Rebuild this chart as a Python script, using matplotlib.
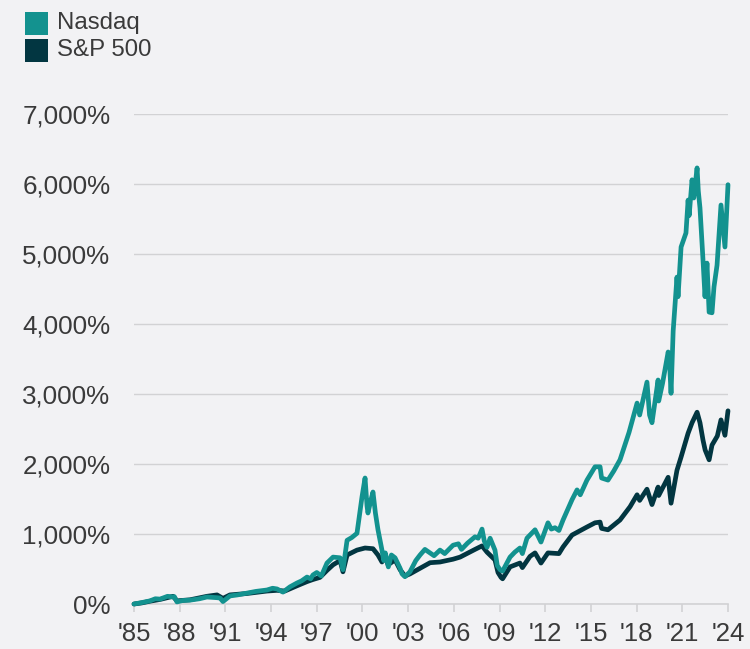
import matplotlib
matplotlib.use("Agg")
import matplotlib.pyplot as plt
from matplotlib.patches import Rectangle
from matplotlib.ticker import FuncFormatter

series_names = ["Nasdaq", "S&P 500"]
series_colors = ["#13928f", "#023641"]

nasdaq_dates = [1985.0, 1985.5, 1986.05, 1986.4, 1986.71, 1987.2, 1987.56, 1987.65, 1987.82, 1988.2,
                1988.68, 1989.3, 1989.79, 1990.45, 1990.65, 1990.84, 1991.3, 1991.8, 1992.42, 1993.0,
                1993.73, 1994.1, 1994.39, 1994.78, 1995.24, 1995.7, 1996.0, 1996.36, 1996.6, 1996.75,
                1997.0, 1997.3, 1997.67, 1998.07, 1998.53, 1998.72, 1998.99, 1999.3, 1999.64, 1999.97,
                2000.17, 2000.3, 2000.36, 2000.55, 2000.69, 2000.85, 2001.02, 2001.28, 2001.4, 2001.5,
                2001.7, 2001.9, 2002.14, 2002.47, 2002.6, 2002.79, 2003.12, 2003.5, 2003.78, 2004.1,
                2004.44, 2004.7, 2005.09, 2005.4, 2005.95, 2006.3, 2006.5, 2006.9, 2007.39, 2007.6,
                2007.85, 2008.0, 2008.18, 2008.38, 2008.7, 2008.85, 2009.03, 2009.2, 2009.69, 2010.0,
                2010.34, 2010.5, 2010.8, 2011.33, 2011.72, 2012.18, 2012.4, 2012.64, 2012.9, 2013.17,
                2013.76, 2014.09, 2014.3, 2014.74, 2015.27, 2015.6, 2015.7, 2016.12, 2016.5, 2016.91,
                2017.5, 2018.03, 2018.2, 2018.68, 2018.85, 2019.01, 2019.41, 2019.45, 2019.7, 2020.07,
                2020.15, 2020.26, 2020.4, 2020.65, 2020.72, 2020.92, 2021.24, 2021.38, 2021.45, 2021.64,
                2021.75, 2021.97, 2022.05, 2022.16, 2022.36, 2022.49, 2022.62, 2022.76, 2022.95, 2023.08,
                2023.28, 2023.54, 2023.8, 2024.0]
nasdaq_values = [0, 20, 45, 75, 70, 110, 100, 105, 30, 50,
                 55, 75, 100, 90, 85, 35, 115, 130, 155, 180,
                 200, 225, 215, 170, 245, 300, 330, 385, 360, 415,
                 450, 400, 585, 670, 660, 490, 910, 950, 1010, 1530,
                 1800, 1400, 1300, 1480, 1600, 1300, 1060, 770, 620, 730,
                 530, 700, 660, 510, 430, 390, 460, 620, 700, 780,
                 730, 690, 770, 720, 840, 860, 780, 870, 960, 940,
                 1070, 900, 810, 940, 770, 550, 490, 470, 670, 740,
                 800, 720, 940, 1060, 885, 1160, 1070, 1090, 1050, 1200,
                 1490, 1630, 1560, 1770, 1960, 1960, 1800, 1770, 1900, 2060,
                 2450, 2870, 2700, 3170, 2700, 2590, 3200, 2900, 3150, 3600,
                 3500, 3010, 3900, 4670, 4390, 5100, 5300, 5770, 5550, 6060,
                 5800, 6230, 5900, 5660, 4910, 4390, 4870, 4170, 4160, 4530,
                 4840, 5700, 5100, 5990]

sp_dates = [1985.0, 1985.5, 1986.05, 1986.71, 1987.56, 1987.82, 1988.68, 1989.79, 1990.45, 1990.84,
            1991.3, 1992.42, 1993.73, 1994.39, 1994.9, 1995.7, 1996.36, 1996.75, 1997.21, 1997.67,
            1998.07, 1998.53, 1998.72, 1998.99, 1999.64, 2000.17, 2000.69, 2001.02, 2001.28, 2001.48,
            2001.68, 2002.14, 2002.47, 2002.79, 2003.12, 2003.78, 2004.44, 2005.09, 2005.95, 2006.41,
            2007.39, 2007.85, 2008.18, 2008.7, 2008.9, 2009.1, 2009.2, 2009.69, 2010.34, 2010.5,
            2011.0, 2011.33, 2011.72, 2012.18, 2012.9, 2013.17, 2013.76, 2014.74, 2015.27, 2015.6,
            2015.7, 2016.12, 2016.91, 2017.57, 2018.03, 2018.2, 2018.68, 2019.01, 2019.41, 2019.45,
            2020.07, 2020.26, 2020.65, 2020.92, 2021.38, 2021.64, 2021.97, 2022.16, 2022.36, 2022.5,
            2022.76, 2022.95, 2023.3, 2023.54, 2023.8, 2024.0]
sp_values = [0, 15, 40, 65, 110, 45, 60, 110, 130, 80,
             130, 150, 185, 195, 185, 260, 320, 350, 380, 480,
             560, 620, 460, 700, 770, 800, 790, 700, 600, 700,
             560, 630, 490, 400, 430, 510, 590, 600, 640, 670,
             780, 830, 740, 630, 450, 380, 360, 530, 585, 520,
             680, 730, 585, 730, 720, 815, 985, 1100, 1160, 1170,
             1080, 1060, 1200, 1390, 1560, 1480, 1640, 1420, 1670, 1550,
             1810, 1440, 1910, 2100, 2440, 2590, 2740, 2590, 2340, 2200,
             2060, 2270, 2400, 2630, 2410, 2760]

tick_years = [1985, 1988, 1991, 1994, 1997, 2000, 2003, 2006, 2009, 2012, 2015, 2018, 2021, 2024]
tick_labels = ["'85", "'88", "'91", "'94", "'97", "'00", "'03", "'06", "'09", "'12", "'15", "'18", "'21", "'24"]
y_ticks = [0, 1000, 2000, 3000, 4000, 5000, 6000, 7000]

bg = "#f2f2f4"
text_color = "#3a3a3a"
grid_color = "#d2d2d4"

plt.rcParams['font.family'] = ['Liberation Sans', 'DejaVu Sans']

fig = plt.figure(figsize=(7.5, 6.49), dpi=100, facecolor=bg)
ax = fig.add_axes([134/750, 45/649, 594/750, 490/649], facecolor=bg)

ax.plot(sp_dates, sp_values, color=series_colors[1], lw=3.4, solid_joinstyle='round',
        solid_capstyle='round', zorder=3, clip_on=False)
ax.plot(nasdaq_dates, nasdaq_values, color=series_colors[0], lw=3.4, solid_joinstyle='round',
        solid_capstyle='round', zorder=4, clip_on=False)

ax.set_xlim(1985, 2024)
ax.set_ylim(0, 7000)
ax.set_xticks(tick_years)
ax.set_xticklabels(tick_labels)
ax.set_yticks(y_ticks)
ax.yaxis.set_major_formatter(FuncFormatter(lambda v, p: f"{int(v):,}%"))

ax.grid(axis='y', color=grid_color, lw=1.0, zorder=0)
ax.set_axisbelow(True)
for s in ['top', 'right', 'left']:
    ax.spines[s].set_visible(False)
ax.spines['bottom'].set_color(grid_color)
ax.spines['bottom'].set_linewidth(1.2)
ax.spines['bottom'].set_zorder(1)

ax.tick_params(axis='x', length=6, width=1.2, color=grid_color, pad=7, labelsize=18.5, labelcolor=text_color)
ax.tick_params(axis='y', length=0, pad=17, labelsize=18.7, labelcolor=text_color)

# legend
leg_y = [(649 - 35) / 649, (649 - 62) / 649]
for name, col, yb in zip(series_names, series_colors, leg_y):
    fig.patches.append(Rectangle((25/750, yb), 23/750, 23/649, transform=fig.transFigure,
                                 facecolor=col, edgecolor='none'))
    fig.text(57/750, yb + 11.5/649, name, fontsize=17.3, color=text_color, va='center', ha='left')

fig.savefig("out.png", dpi=100, facecolor=bg)
